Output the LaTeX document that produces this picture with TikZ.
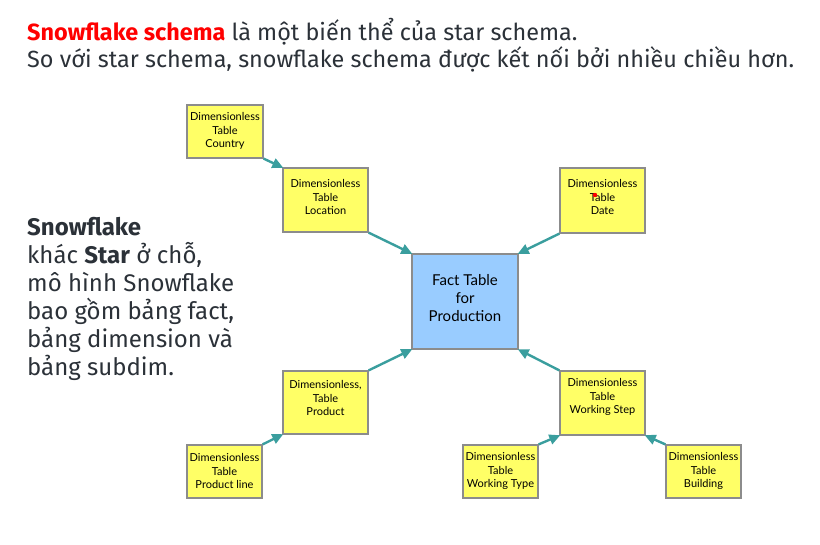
\documentclass[tikz,border=0pt]{standalone}
\usepackage{fontspec}
\setmainfont{Fira Sans}
\newfontfamily\boxfont{Lato}
\usetikzlibrary{arrows.meta}
\definecolor{inkgray}{HTML}{2B3138}
\definecolor{titlered}{HTML}{FF0000}
\definecolor{dimyellow}{HTML}{FFFF66}
\definecolor{factblue}{HTML}{99CCFF}
\definecolor{edgegray}{HTML}{8C8C8C}
\definecolor{linkteal}{HTML}{3A9E9E}
\tikzset{
  x=1pt, y=-1pt,
  headline/.style={anchor=base west, inner sep=0pt, text=inkgray, font=\fontsize{23.4}{28}\selectfont},
  sidetext/.style={anchor=base west, inner sep=0pt, text=inkgray, font=\fontsize{24}{28}\selectfont},
  tablebox/.style={draw=edgegray, line width=1.2pt, inner sep=0pt},
  dimbox/.style={tablebox, fill=dimyellow},
  factbox/.style={tablebox, fill=factblue},
  dimtext/.style={align=center, inner sep=0pt, text=black, font=\boxfont\fontsize{11}{13.2}\selectfont},
  facttext/.style={align=center, inner sep=0pt, text=black, font=\boxfont\fontsize{15}{18}\selectfont},
  link/.style={draw=linkteal, line width=2.4pt, -{Triangle[length=11pt,width=10pt]}, shorten >=-1pt}
}
\begin{document}
\begin{tikzpicture}
\useasboundingbox (0,0) rectangle (820,544);

% heading
\node[headline] (h1) at (27,40) {\textbf{\textcolor{titlered}{Snowflake schema}} là một biến thể của star schema.};
\node[headline] (h2) at (27,67) {So với star schema, snowflake schema được kết nối bởi nhiều chiều hơn.};

% side note
\node[sidetext] (s1) at (27,235) {\textbf{Snowflake}};
\node[sidetext] (s2) at (27,263) {khác \textbf{Star} ở chỗ,};
\node[sidetext] (s3) at (27,291) {mô hình Snowflake};
\node[sidetext] (s4) at (27,319) {bao gồm bảng fact,};
\node[sidetext] (s5) at (27,347) {bảng dimension và};
\node[sidetext] (s6) at (27,375) {bảng subdim.};

% tables
\node[factbox, minimum width=106, minimum height=95] (fact) at (465,301.5) {};
\node[facttext] (factlbl) at (465,298) {Fact Table\\for\\Production};

\node[dimbox, minimum width=76, minimum height=53] (country) at (225,131.5) {};
\node[dimtext] (countrylbl) at (225,131) {Dimensionless\\Table\\Country};

\node[dimbox, minimum width=85, minimum height=64] (loc) at (325.5,200) {};
\node[dimtext] (loclbl) at (325.5,197) {Dimensionless\\Table\\Location};

\node[dimbox, minimum width=85, minimum height=65] (date) at (602.5,200.5) {};
\node[dimtext] (datelbl) at (602.5,197) {Dimensionless\\Table\\Date};

\node[dimbox, minimum width=85, minimum height=63] (prod) at (325.5,402.5) {};
\node[dimtext] (prodlbl) at (325.5,398) {Dimensionless,\\Table\\Product};

\node[dimbox, minimum width=75, minimum height=53] (pline) at (224.5,471.5) {};
\node[dimtext] (plinelbl) at (224.5,471) {Dimensionless\\Table\\Product line};

\node[dimbox, minimum width=85, minimum height=64] (step) at (602.5,403) {};
\node[dimtext] (steplbl) at (602.5,397) {Dimensionless\\Table\\Working Step};

\node[dimbox, minimum width=75, minimum height=53] (wtype) at (500.5,471.5) {};
\node[dimtext] (wtypelbl) at (500.5,471) {Dimensionless\\Table\\Working Type};

\node[dimbox, minimum width=75, minimum height=53] (bldg) at (703.5,471.5) {};
\node[dimtext] (bldglbl) at (703.5,471) {Dimensionless\\Table\\Building};

% small red marker on the Date table
\fill[titlered] (595,195) circle (2.2);

% links
\draw[link] (country.south east) -- (loc.north west);
\draw[link] (loc.south east) -- (fact.north west);
\draw[link] (date.south west) -- (fact.north east);
\draw[link] (prod.north east) -- (fact.south west);
\draw[link] (step.north west) -- (fact.south east);
\draw[link] (pline.north east) -- (prod.south west);
\draw[link] (wtype.north east) -- (step.south west);
\draw[link] (bldg.north west) -- (step.south east);
\end{tikzpicture}
\end{document}
